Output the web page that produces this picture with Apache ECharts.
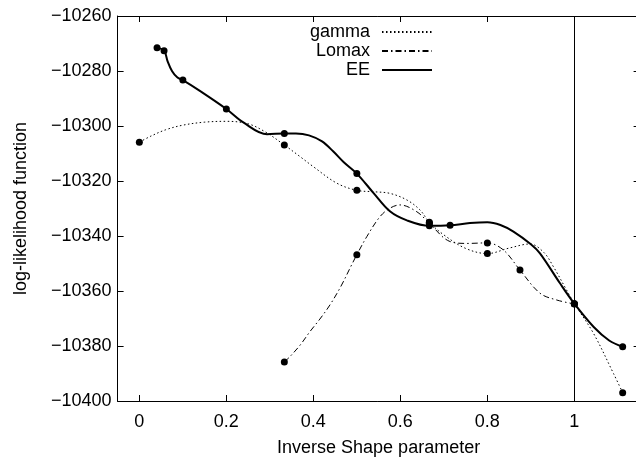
<!DOCTYPE html>
<html>
<head>
<meta charset="utf-8">
<script src="https://cdn.jsdelivr.net/npm/echarts@6/dist/echarts.min.js"></script>
<style>html,body{margin:0;padding:0;background:#fff}#c{width:636px;height:460px}</style>
</head>
<body>
<div id="c"></div>
<script>
// Tick labels
const xTicks = [0, 0.2, 0.4, 0.6, 0.8, 1];
const yTicks = [-10400, -10380, -10360, -10340, -10320, -10300, -10280, -10260];
const seriesNames = ['gamma', 'Lomax', 'EE'];

// Marked points (x, log-likelihood)
const gammaPts = [[0, -10305.9], [0.3333, -10306.9], [0.5, -10323.4], [0.6667, -10335.0], [0.8, -10346.4], [1, -10364.6], [1.1111, -10397.0]];
const lomaxPts = [[0.3333, -10385.8], [0.5, -10346.8], [0.6667, -10335.4], [0.8, -10342.5], [0.875, -10352.4], [1, -10364.7]];
const eePts = [[0.0407, -10271.5], [0.0568, -10272.6], [0.1, -10283.3], [0.2, -10293.8], [0.3333, -10302.7], [0.5, -10317.3], [0.6667, -10336.3], [0.7143, -10336.1], [1, -10364.6], [1.1111, -10380.3]];

// Smoothed curves
const gammaCurve = [[0, -10305.9], [0.025, -10303.8], [0.06, -10301.4], [0.1, -10299.7], [0.15, -10298.6], [0.2, -10298.3], [0.25, -10299.2], [0.29, -10302.2], [0.3333, -10306.9], [0.37, -10311.2], [0.4, -10314.8], [0.454, -10320.8], [0.5, -10323.4], [0.538, -10323.9], [0.576, -10324.5], [0.615, -10326.9], [0.645, -10330.5], [0.6667, -10335.0], [0.7, -10339.6], [0.75, -10344.5], [0.8, -10346.4], [0.85, -10344.4], [0.898, -10342.9], [0.93, -10346.0], [0.952, -10351.2], [0.982, -10359.6], [1, -10364.6], [1.044, -10375.4], [1.09, -10390.0], [1.1111, -10397.0]];
const lomaxCurve = [[0.3333, -10385.8], [0.346, -10383.9], [0.37, -10379.6], [0.392, -10374.8], [0.415, -10370.2], [0.438, -10365.1], [0.463, -10358.4], [0.488, -10350.5], [0.5, -10346.8], [0.523, -10340.2], [0.553, -10333.0], [0.576, -10329.9], [0.599, -10328.7], [0.638, -10331.2], [0.6667, -10335.4], [0.714, -10342.0], [0.753, -10342.7], [0.8, -10342.5], [0.837, -10345.1], [0.875, -10352.4], [0.921, -10360.8], [0.96, -10363.3], [1, -10364.7]];
const eeCurve = [[0.0407, -10271.5], [0.0568, -10272.6], [0.065, -10276.5], [0.075, -10280.0], [0.087, -10282.3], [0.1, -10283.3], [0.14, -10287.3], [0.2, -10293.8], [0.24, -10298.8], [0.2936, -10303.0], [0.3333, -10302.7], [0.36, -10302.7], [0.39, -10303.4], [0.42, -10305.6], [0.446, -10309.3], [0.47, -10313.2], [0.5, -10317.3], [0.538, -10324.3], [0.576, -10331.0], [0.615, -10334.3], [0.6667, -10336.3], [0.7143, -10336.1], [0.76, -10335.3], [0.8, -10335.0], [0.83, -10336.0], [0.86, -10338.4], [0.9, -10343.0], [0.921, -10346.3], [0.967, -10357.2], [1, -10364.6], [1.044, -10373.0], [1.08, -10378.0], [1.1111, -10380.3]];

const refLineX = 1;

const FONT = 'Liberation Sans, Arial, Helvetica, sans-serif';
const chart = echarts.init(document.getElementById('c'), null, {renderer: 'canvas'});
const fmtY = v => String(v).replace('-', '\u2212');

const commonX = {
  type: 'value', min: -0.05, max: 1.15,
  axisLine: {show: true, onZero: false, lineStyle: {color: '#000', width: 1}},
  axisTick: {show: true, inside: true, length: 6, customValues: xTicks, lineStyle: {color: '#000'}},
  splitLine: {show: false}
};
const commonY = {
  type: 'value', min: yTicks[0], max: yTicks[yTicks.length - 1], interval: 20,
  axisLine: {show: true, onZero: false, lineStyle: {color: '#000', width: 1}},
  axisTick: {show: true, inside: true, length: 6, lineStyle: {color: '#000'}},
  splitLine: {show: false}
};

const lineStyles = {
  gamma: {color: '#000', width: 1, type: [1.5, 2.5]},
  Lomax: {color: '#000', width: 1, type: [6, 3, 1.5, 3]},
  EE: {color: '#000', width: 2, type: 'solid'}
};

const curves = {gamma: gammaCurve, Lomax: lomaxCurve, EE: eeCurve};
const pts = {gamma: gammaPts, Lomax: lomaxPts, EE: eePts};

const series = [];
seriesNames.forEach(n => {
  series.push({
    name: n, type: 'line', data: curves[n], smooth: 0.35,
    showSymbol: false, symbol: 'none', symbolSize: 0,
    lineStyle: lineStyles[n], itemStyle: {color: '#000'}, silent: true, z: 3
  });
});
seriesNames.forEach(n => {
  series.push({
    name: n + ' points', type: 'scatter', data: pts[n], symbol: 'circle', symbolSize: 7,
    itemStyle: {color: '#000', opacity: 1}, silent: true, z: 5
  });
});
series.push({
  name: 'ref', type: 'line', data: [], markLine: {
    silent: true, symbol: ['none', 'none'], label: {show: false},
    lineStyle: {color: '#000', width: 1, type: 'solid'},
    data: [{xAxis: refLineX}]
  }
});

chart.setOption({
  animation: false,
  backgroundColor: '#fff',
  textStyle: {fontFamily: FONT},
  grid: {left: 117.6, right: -3.6, top: 16, bottom: 59, outerBoundsMode: 'none', containLabel: false},
  legend: {
    data: seriesNames, orient: 'vertical', align: 'right', right: 198, top: 18,
    itemWidth: 50, itemHeight: 10, itemGap: 1,
    itemStyle: {opacity: 0},
    textStyle: {fontFamily: FONT, fontSize: 18, color: '#000', lineHeight: 18, padding: [0, 7, 0, 0]},
    selectedMode: false
  },
  xAxis: [
    Object.assign({}, commonX, {
      position: 'bottom',
      axisLabel: {show: true, customValues: xTicks, color: '#000', fontSize: 18, margin: 12, fontFamily: FONT},
      name: 'Inverse Shape parameter', nameLocation: 'middle', nameGap: 38,
      nameTextStyle: {color: '#000', fontSize: 18, fontFamily: FONT}
    }),
    Object.assign({}, commonX, {position: 'top', axisLabel: {show: false}})
  ],
  yAxis: [
    Object.assign({}, commonY, {
      position: 'left',
      axisLabel: {show: true, color: '#000', fontSize: 18, margin: 6, formatter: fmtY, fontFamily: FONT},
      name: 'log-likelihood function', nameLocation: 'middle', nameGap: 88,
      nameTextStyle: {color: '#000', fontSize: 18, fontFamily: FONT}
    }),
    Object.assign({}, commonY, {position: 'right', axisLabel: {show: false}})
  ],
  series: series
});
</script>
</body>
</html>
